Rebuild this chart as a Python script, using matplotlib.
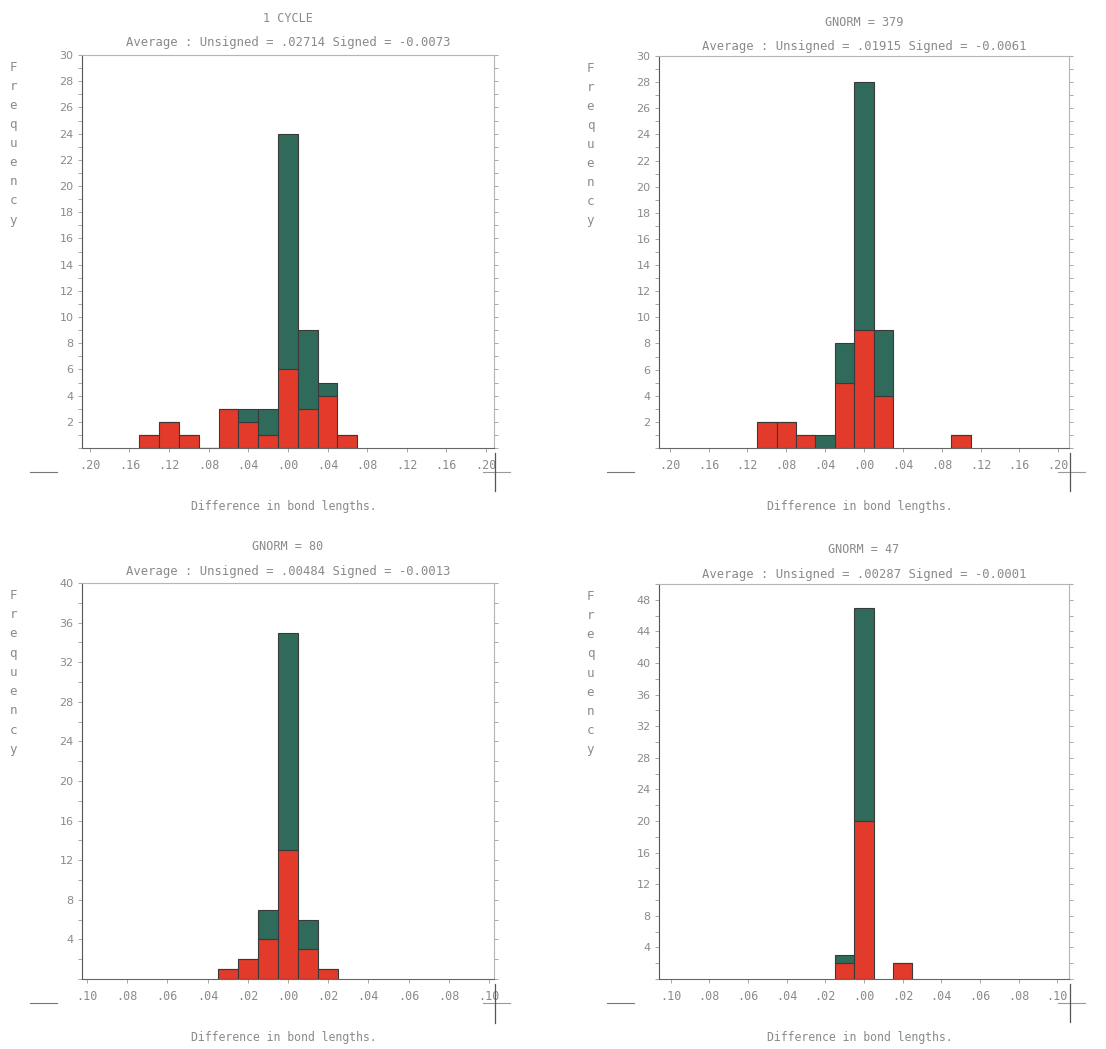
import numpy as np
import matplotlib.pyplot as plt
from matplotlib.ticker import MultipleLocator, FixedLocator, FuncFormatter

# --- data ---
titles = ["1 CYCLE", "GNORM = 379", "GNORM = 80", "GNORM = 47"]
subtitles = [
    "Average : Unsigned = .02714 Signed = -0.0073",
    "Average : Unsigned = .01915 Signed = -0.0061",
    "Average : Unsigned = .00484 Signed = -0.0013",
    "Average : Unsigned = .00287 Signed = -0.0001",
]

# panel 1
bins_1 = [-0.14, -0.12, -0.10, -0.08, -0.06, -0.04, -0.02, 0.00, 0.02, 0.04, 0.06]
red_1 = [1, 2, 1, 0, 3, 2, 1, 6, 3, 4, 1]
green_1 = [0, 0, 0, 0, 0, 1, 2, 18, 6, 1, 0]
# panel 2
bins_2 = [-0.10, -0.08, -0.06, -0.04, -0.02, 0.00, 0.02, 0.10]
red_2 = [2, 2, 1, 0, 5, 9, 4, 1]
green_2 = [0, 0, 0, 1, 3, 19, 5, 0]
# panel 3
bins_3 = [-0.03, -0.02, -0.01, 0.00, 0.01, 0.02]
red_3 = [1, 2, 4, 13, 3, 1]
green_3 = [0, 0, 3, 22, 3, 0]
# panel 4
bins_4 = [-0.01, 0.00, 0.02]
red_4 = [2, 20, 2]
green_4 = [1, 27, 0]

bin_widths = [0.02, 0.02, 0.01, 0.01]
xlims = [(-0.208, 0.208), (-0.211, 0.211), (-0.1025, 0.1025), (-0.106, 0.106)]
x_ticks = [np.arange(-0.20, 0.201, 0.04), np.arange(-0.20, 0.201, 0.04),
           np.arange(-0.10, 0.101, 0.02), np.arange(-0.10, 0.101, 0.02)]
ylims = [30, 30, 40, 50]
y_major = [2, 2, 4, 4]
y_minor = [1, 1, 2, 2]

# axes boxes in figure fractions (left, bottom, width, height)
boxes = [
    [0.0741, 0.5729, 0.3725, 0.3746],
    [0.5958, 0.5729, 0.3707, 0.3737],
    [0.0741, 0.0667, 0.3725, 0.3775],
    [0.5958, 0.0667, 0.3707, 0.3765],
]
title_y = [(1.094, 1.033), (1.086, 1.025), (1.091, 1.030), (1.088, 1.025)]

RED = '#e23b2b'
GREEN = '#2f6a5b'
TXT = '#8a8a8a'
EDGE = '#3a3a3a'
MONO = 'DejaVu Sans Mono'

fig = plt.figure(figsize=(11.06, 10.49), dpi=100)

panels = [(bins_1, red_1, green_1), (bins_2, red_2, green_2),
          (bins_3, red_3, green_3), (bins_4, red_4, green_4)]


def fmt_x(v, pos):
    return "." + f"{int(round(abs(v) * 100)):02d}"


for i, (bins, red, green) in enumerate(panels):
    ax = fig.add_axes(boxes[i])
    w = bin_widths[i]
    ax.bar(bins, red, width=w, color=RED, edgecolor=EDGE, linewidth=0.8)
    ax.bar(bins, green, width=w, bottom=red, color=GREEN, edgecolor=EDGE, linewidth=0.8)

    ax.set_xlim(*xlims[i])
    ax.set_ylim(0, ylims[i])

    ax.xaxis.set_major_locator(FixedLocator(x_ticks[i]))
    ax.xaxis.set_major_formatter(FuncFormatter(fmt_x))
    ax.yaxis.set_major_locator(FixedLocator(np.arange(y_major[i], ylims[i] + 0.1, y_major[i])))
    ax.yaxis.set_minor_locator(MultipleLocator(y_minor[i]))
    ax.yaxis.set_major_formatter(FuncFormatter(lambda v, p: f"{int(v)}"))

    ax.tick_params(axis='x', which='both', direction='out', length=3, width=0.6,
                   colors='#9a9a9a', labelcolor=TXT, labelsize=8.5, pad=5)
    ax.tick_params(axis='y', which='both', direction='out', length=3, width=0.6,
                   colors='#9a9a9a', labelcolor=TXT, labelsize=8, pad=3,
                   right=True, labelright=False)
    for lab in ax.get_xticklabels():
        lab.set_family(MONO)

    for side, sp in ax.spines.items():
        sp.set_linewidth(0.8)
        sp.set_color('#b5b5b5')
    ax.spines['left'].set_color('#555555')
    ax.spines['bottom'].set_color('#666666')

    ax.text(0.5, title_y[i][0], titles[i], transform=ax.transAxes, family=MONO,
            ha='center', va='center', fontsize=8.5, color=TXT)
    ax.text(0.5, title_y[i][1], subtitles[i], transform=ax.transAxes, family=MONO,
            ha='center', va='center', fontsize=8.8, color=TXT)
    ax.text(0.49, -0.148, "Difference in bond lengths.", transform=ax.transAxes,
            family=MONO, ha='center', va='center', fontsize=8.3, color=TXT)

    # stacked "Frequency" label
    for k, ch in enumerate("Frequency"):
        ax.text(-0.167, 0.969 - k * 0.0486, ch, transform=ax.transAxes, family=MONO,
                ha='center', va='center', fontsize=9, color=TXT)

    # plotter marks around the bottom corners
    yb = -0.061
    ax.plot([-0.126, -0.061], [yb, yb], transform=ax.transAxes, clip_on=False,
            color='#777777', lw=0.8)
    ax.plot([0.973, 1.039], [yb, yb], transform=ax.transAxes, clip_on=False,
            color='#999999', lw=0.8)
    ax.plot([1.003, 1.003], [-0.013, -0.11], transform=ax.transAxes, clip_on=False,
            color='#555555', lw=0.9)

fig.savefig("out.png", dpi=100, facecolor='white')
